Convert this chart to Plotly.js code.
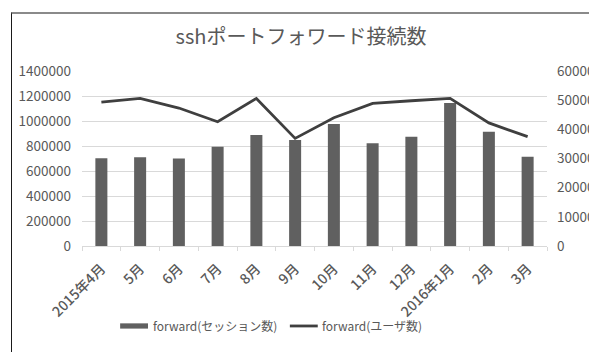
<!DOCTYPE html>
<html>
<head>
<meta charset="utf-8">
<script src="https://cdn.plot.ly/plotly-3.0.1.min.js"></script>
<style>
  html, body { margin: 0; padding: 0; background: #fff; overflow: hidden; }
  #wrap { position: relative; width: 589px; height: 352px; overflow: hidden; }
  #frame { position: absolute; left: 11px; top: 12px; width: 600px; height: 360px;
           border-left: 1px solid #1a1a1a; border-top: 2px solid #8a8a8a;
           box-sizing: border-box; pointer-events: none; }
  #chart { position: absolute; left: 0; top: 0; }
</style>
</head>
<body>
<div id="wrap">
  <div id="chart"></div>
  <div id="frame"></div>
</div>
<script>
// Monthly ssh port-forward counts, FY2015
const months = ['2015年4月', '5月', '6月', '7月', '8月', '9月', '10月', '11月', '12月', '2016年1月', '2月', '3月'];
const sessions = [702000, 710000, 700000, 795000, 888000, 848000, 976000, 822000, 874000, 1144000, 914000, 714000];
const users = [49300, 50600, 47300, 42600, 50600, 36900, 44000, 48900, 49800, 50600, 42200, 37500];
const sessionName = 'forward(セッション数)';
const userName = 'forward(ユーザ数)';

const textColor = '#595959';
const font = 'Noto Sans CJK JP, sans-serif';

const traces = [
  {
    type: 'bar', x: months, y: sessions, name: sessionName,
    marker: { color: '#606060' }, yaxis: 'y', showlegend: false
  },
  {
    type: 'scatter', mode: 'lines', x: months, y: users, name: userName,
    line: { color: '#3f3f3f', width: 2.8 }, yaxis: 'y2', showlegend: false
  }
];

const layout = {
  width: 620, height: 352,
  margin: { l: 82, r: 73, t: 71, b: 106 },
  paper_bgcolor: 'rgba(0,0,0,0)', plot_bgcolor: '#fff',
  font: { family: font, color: textColor, size: 12 },
  bargap: 0.69,
  title: {
    text: 'sshポートフォワード接続数',
    font: { family: font, size: 20, color: textColor },
    x: 0.471, xanchor: 'center', y: 0.895, yanchor: 'middle', xref: 'paper'
  },
  xaxis: {
    type: 'category', tickangle: -45,
    tickfont: { size: 14, color: textColor, weight: 500 },
    ticklabelstandoff: 8,
    showline: true, linecolor: '#d9d9d9', linewidth: 1,
    ticks: 'outside', tickson: 'boundaries', ticklen: 4, tickcolor: '#d9d9d9',
    showgrid: false, fixedrange: true
  },
  yaxis: {
    range: [0, 1400000], dtick: 200000, tickformat: 'd',
    showgrid: true, gridcolor: '#d9d9d9', gridwidth: 1,
    zeroline: false, ticklabelstandoff: 10,
    tickfont: { size: 13.5, color: textColor }, fixedrange: true
  },
  yaxis2: {
    range: [0, 60000], dtick: 10000, tickformat: 'd',
    overlaying: 'y', side: 'right', showgrid: false, zeroline: false,
    ticklabelstandoff: 9,
    tickfont: { size: 13.5, color: textColor }, fixedrange: true
  },
  shapes: [
    { type: 'rect', xref: 'paper', yref: 'paper', x0: 0.082, x1: 0.142, y0: -0.472, y1: -0.442,
      fillcolor: '#606060', line: { width: 0 } },
    { type: 'line', xref: 'paper', yref: 'paper', x0: 0.447, x1: 0.507, y0: -0.457, y1: -0.457,
      line: { color: '#3f3f3f', width: 2.8 } }
  ],
  annotations: [
    { xref: 'paper', yref: 'paper', x: 0.148, y: -0.457, xanchor: 'left', yanchor: 'middle',
      text: sessionName, showarrow: false, font: { size: 12, color: textColor } },
    { xref: 'paper', yref: 'paper', x: 0.511, y: -0.457, xanchor: 'left', yanchor: 'middle',
      text: userName, showarrow: false, font: { size: 12, color: textColor } }
  ]
};

Plotly.newPlot('chart', traces, layout, { displayModeBar: false, staticPlot: true });
</script>
</body>
</html>
